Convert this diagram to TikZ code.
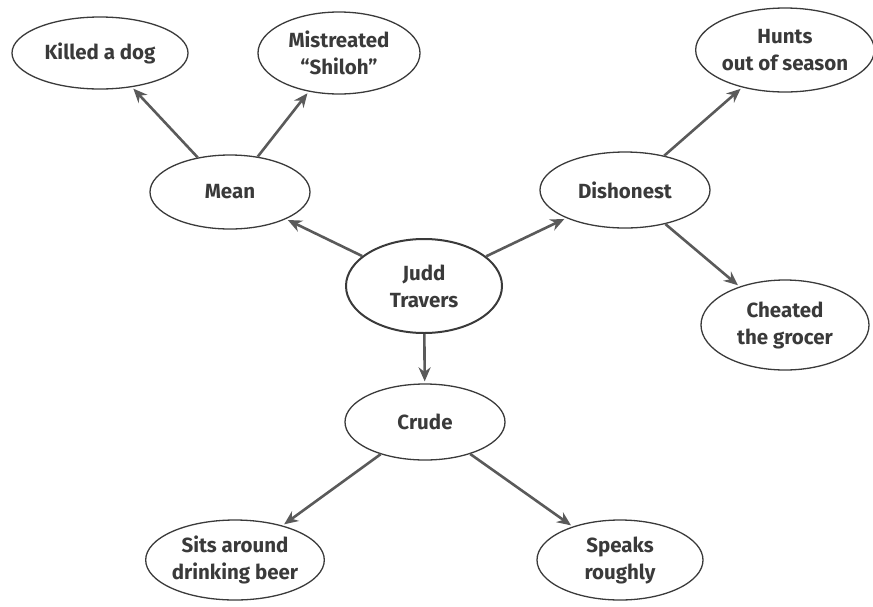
\documentclass[tikz,border=0pt]{standalone}
\usepackage{fontspec}
\setmainfont{Fira Sans}
\usetikzlibrary{shapes.geometric,arrows.meta}
\definecolor{ink}{HTML}{3A3A3A}
\definecolor{arr}{HTML}{5A5A5A}
\tikzset{
  oval/.style={ellipse, draw=ink, line width=1.3pt, inner sep=0pt, align=center,
    text=ink, font=\fontsize{20.5}{27}\selectfont\bfseries},
  link/.style={draw=arr, line width=2.6pt, -{Stealth[length=14pt,width=12pt]}, shorten >=2pt, shorten <=0pt}
}
\begin{document}
\begin{tikzpicture}[x=1pt,y=-1pt]
\useasboundingbox (0,0) rectangle (873,606);
\node[oval, minimum width=176pt, minimum height=72pt] (kill) at (100,53) {Killed a dog};
\node[oval, minimum width=162pt, minimum height=82pt] (mist) at (339,53) {Mistreated\\“Shiloh”};
\node[oval, minimum width=160pt, minimum height=74pt] (mean) at (230,192) {Mean};
\node[oval, minimum width=156pt, minimum height=94pt, line width=2pt] (judd) at (424,286) {Judd\\Travers};
\node[oval, minimum width=170pt, minimum height=76pt] (dish) at (625,190) {Dishonest};
\node[oval, minimum width=170pt, minimum height=84pt] (hunt) at (785,50) {Hunts\\out of season};
\node[oval, minimum width=168pt, minimum height=90pt] (cheat) at (785,325) {Cheated\\the grocer};
\node[oval, minimum width=160pt, minimum height=76pt] (crude) at (425,422) {Crude};
\node[oval, minimum width=174pt, minimum height=80pt] (sits) at (235,560) {Sits around\\drinking beer};
\node[oval, minimum width=166pt, minimum height=80pt] (speak) at (620,560) {Speaks\\roughly};
\draw[link] (judd) -- (mean);
\draw[link] (judd) -- (dish);
\draw[link] (judd) -- (crude);
\draw[link] (mean) -- (kill);
\draw[link] (mean) -- (mist);
\draw[link] (dish) -- (hunt);
\draw[link] (dish) -- (cheat);
\draw[link] (crude) -- (sits);
\draw[link] (crude) -- (speak);
\end{tikzpicture}
\end{document}
